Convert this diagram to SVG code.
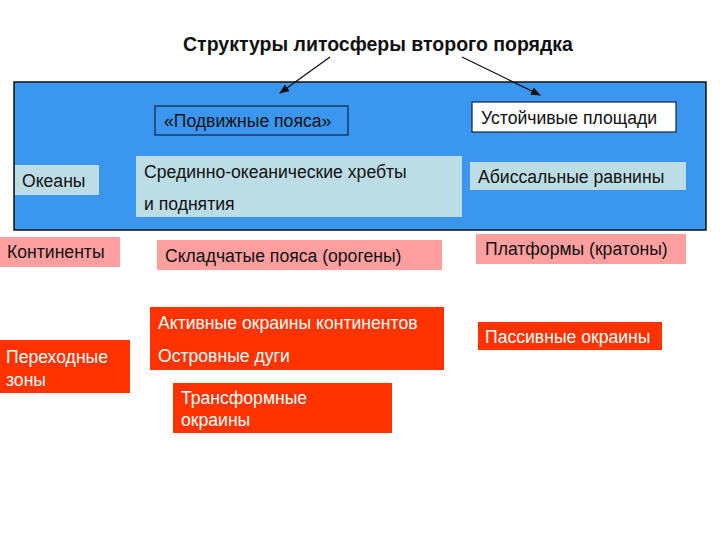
<svg xmlns="http://www.w3.org/2000/svg" width="720" height="540" viewBox="0 0 720 540">
<defs>
<style>
text{font-family:"Liberation Sans",Arial,sans-serif;font-size:17.6px;fill:#111}
.w{fill:#fff}
.lb{fill:#bcdde6}
.pk{fill:#ff9f9f}
.rd{fill:#ff3300}
</style>
<marker id="ah" markerWidth="10" markerHeight="8" refX="9" refY="4" orient="auto" markerUnits="userSpaceOnUse">
<path d="M0,0 L10,4 L0,8 z" fill="#111"/>
</marker>
</defs>
<rect width="720" height="540" fill="#fff"/>
<g id="title"><text x="378" y="51" text-anchor="middle" style="font-weight:bold;font-size:19.5px">Структуры литосферы второго порядка</text></g>
<g id="blue-area"><rect x="14" y="82" width="692" height="148" fill="#3a96ee" stroke="#111" stroke-width="1.5"/></g>
<g id="connectors" stroke="#111" stroke-width="1.3">
<line x1="330" y1="57" x2="280" y2="93" marker-end="url(#ah)"/>
<line x1="462" y1="57" x2="540" y2="95" marker-end="url(#ah)"/>
</g>
<g id="mobile"><rect x="155" y="106" width="193" height="29" fill="none" stroke="#112244" stroke-width="1.2"/><text x="164" y="127">«Подвижные пояса»</text></g>
<g id="stable"><rect x="472" y="102" width="204" height="30" fill="#fff" stroke="#112244" stroke-width="1.2"/><text x="481" y="124">Устойчивые площади</text></g>
<g id="oceans"><rect class="lb" x="15" y="165" width="84" height="30"/><text x="22" y="187">Океаны</text></g>
<g id="ridges"><rect class="lb" x="136" y="156" width="326" height="61"/><text x="144" y="178">Срединно-океанические хребты</text><text x="144" y="210">и поднятия</text></g>
<g id="abyssal"><rect class="lb" x="470" y="162" width="216" height="28"/><text x="478" y="183">Абиссальные равнины</text></g>
<g id="continents"><rect class="pk" x="0" y="237" width="120" height="30"/><text x="7" y="258">Континенты</text></g>
<g id="fold"><rect class="pk" x="157" y="240" width="285" height="30"/><text x="165" y="262">Складчатые пояса (орогены)</text></g>
<g id="platforms"><rect class="pk" x="476" y="234" width="210" height="30"/><text x="485" y="255">Платформы (кратоны)</text></g>
<g id="active"><rect class="rd" x="150" y="307" width="294" height="63"/><text class="w" x="158" y="329">Активные окраины континентов</text><text class="w" x="158" y="362">Островные дуги</text></g>
<g id="passive"><rect class="rd" x="478" y="322" width="184" height="28"/><text class="w" x="485" y="343">Пассивные окраины</text></g>
<g id="transition"><rect class="rd" x="0" y="340" width="130" height="53"/><text class="w" x="6" y="363">Переходные</text><text class="w" x="6" y="386">зоны</text></g>
<g id="transform"><rect class="rd" x="173" y="383" width="219" height="50"/><text class="w" x="181" y="404">Трансформные</text><text class="w" x="181" y="426">окраины</text></g>
</svg>
